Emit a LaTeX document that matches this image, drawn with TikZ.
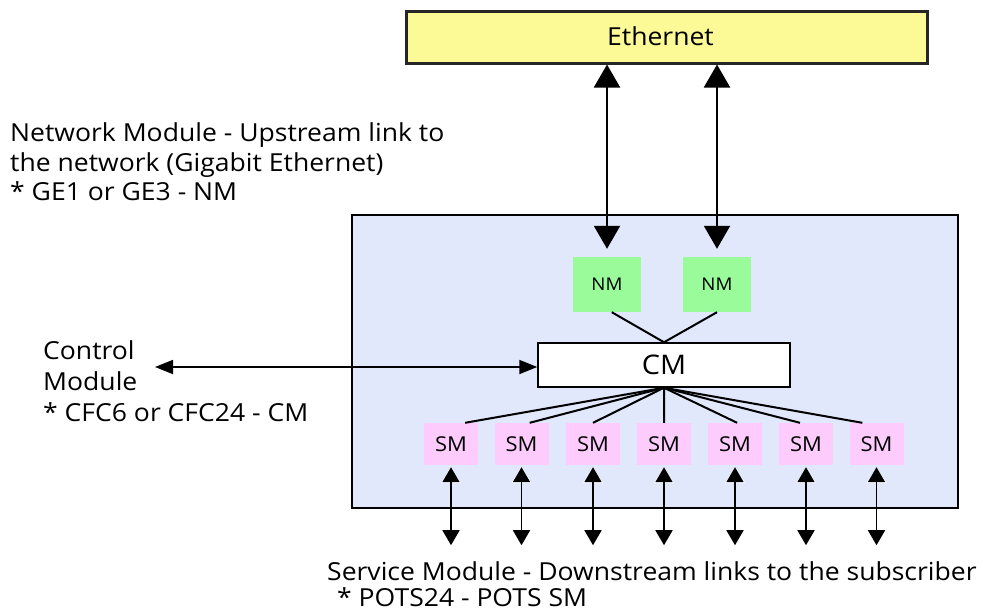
\documentclass[tikz,border=0pt]{standalone}
\usepackage{fontspec}
\setmainfont{Open Sans}[FakeStretch=1.07]
\usetikzlibrary{arrows.meta,calc}
\definecolor{ethfill}{HTML}{FCFA96}
\definecolor{chassis}{HTML}{E1E8FB}
\definecolor{nmfill}{HTML}{99FB99}
\definecolor{smfill}{HTML}{FDCCFD}
\tikzset{
  modbox/.style={rectangle, inner sep=0pt, anchor=center},
  textline/.style={font=\fontsize{24.8}{29}\selectfont, anchor=base west, inner sep=0pt},
  link/.style={line width=2pt},
  ethlink/.style={line width=2pt, {Triangle[width=26pt,length=23pt]}-{Triangle[width=26pt,length=23pt]}},
  sublink/.style={line width=1.8pt, {Triangle[width=17pt,length=15pt]}-{Triangle[width=17pt,length=15pt]}},
  halo/.style={white, line width=4pt, -{Triangle[width=19pt,length=16pt]}},
}
\begin{document}
\begin{tikzpicture}[x=1pt,y=-1pt]
\useasboundingbox (0,0) rectangle (983,611);

% upstream network
\node[modbox, draw=black!85, line width=3pt, fill=ethfill,
      minimum width=521pt, minimum height=52pt] (eth) at (666.5,37) {};
\node[anchor=base, inner sep=0pt, font=\fontsize{24.8}{28}\selectfont]
  (ethlabel) at (660.5,45) {Ethernet};

% chassis
\node[modbox, draw=black, line width=1.5pt, fill=chassis,
      minimum width=606pt, minimum height=293pt] (chassis) at (655,361.5) {};

% network modules
\foreach \n/\x in {nm1/607, nm2/717}
  \node[modbox, fill=nmfill, minimum width=68pt, minimum height=55pt,
        font=\fontsize{17.5}{20}\selectfont] (\n) at (\x,284.5) {NM};

% control module
\node[modbox, draw=black, line width=1.5pt, fill=white,
      minimum width=252pt, minimum height=44pt,
      font=\fontsize{27}{30}\selectfont] (cm) at (664,365) {CM};

% service modules
\foreach \i/\x in {1/451, 2/521.5, 3/593, 4/664, 5/735, 6/806, 7/876.5}
  \node[modbox, fill=smfill, minimum width=54pt, minimum height=42pt,
        font=\fontsize{20.5}{23}\selectfont] (sm\i) at (\x,444) {SM};

% NM -> CM
\draw[link] ($(nm1.south west)!0.57!(nm1.south east)$) -- (cm.north);
\draw[link] ($(nm2.south west)!0.5!(nm2.south east)$) -- (cm.north);

% CM -> SM fan-out
\foreach \i/\f in {1/0.76, 2/0.65, 3/0.5, 4/0.5, 5/0.54, 6/0.39, 7/0.24}
  \draw[link] (cm.south) -- ($(sm\i.north west)!\f!(sm\i.north east)$);

% Ethernet <-> NM
\foreach \n in {nm1, nm2}
  \draw[ethlink, shorten >=8pt] (eth.south -| \n) -- (\n.north);

% subscriber links, with a white rim round the upper tips
\foreach \i in {1,...,7} {
  \coordinate (sub\i) at ($(sm\i.south)+(0,80)$);
  \draw[halo, shorten >=2pt] ($(sm\i.south)+(0,18)$) -- (sm\i.south);
  \draw[sublink, shorten >=2pt] (sub\i) -- (sm\i.south);
}

% control link
\coordinate (ctl) at (155,367);
\draw[line width=1.8pt, {Triangle[width=14pt,length=18pt]}-{Triangle[width=14pt,length=18pt]}]
  (ctl) -- (ctl -| cm.west);

% descriptions
\node[textline] (nm-a) at (10,141.7) {Network Module - Upstream link to};
\node[textline] (nm-b) at (10,171)   {the network (Gigabit Ethernet)};
\node[textline] (nm-c) at (10,200.5) {* GE1 or GE3 - NM};
\node[textline] (cm-a) at (43,359)   {Control};
\node[textline] (cm-b) at (43,390)   {Module};
\node[textline] (cm-c) at (43,421.5) {* CFC6 or CFC24 - CM};
\node[textline] (sm-a) at (327,580)  {Service Module - Downstream links to the subscriber};
\node[textline] (sm-b) at (337,606)  {* POTS24 - POTS SM};
\end{tikzpicture}
\end{document}
